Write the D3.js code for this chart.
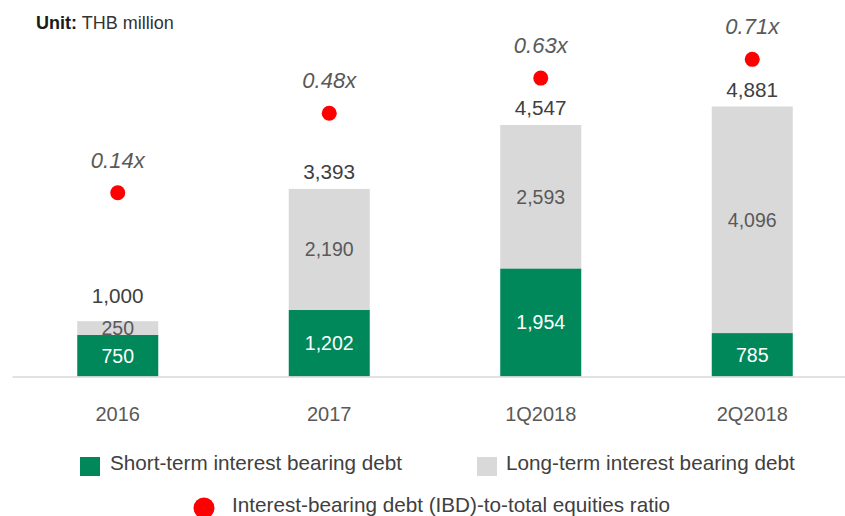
<!DOCTYPE html>
<html lang="en">

<head>
	<title>Interest bearing debt</title>
	<meta charset="utf-8">
	<script src="https://d3js.org/d3.v7.min.js"></script>
	<style>
		body { margin: 0; background: #fff; }
		svg { display: block; font-family: "Liberation Sans", Arial, sans-serif; }
	</style>
</head>

<body>
	<div id="container1"></div>
	<script>
		// Access data
		const periods = ["2016", "2017", "1Q2018", "2Q2018"];
		const shortTerm = [750, 1202, 1954, 785];
		const longTerm = [250, 2190, 2593, 4096];
		const totals = [1000, 3393, 4547, 4881];
		const ratios = [0.14, 0.48, 0.63, 0.71];
		const legendLabels = [
			"Short-term interest bearing debt",
			"Long-term interest bearing debt",
			"Interest-bearing debt (IBD)-to-total equities ratio"
		];

		const data = periods.map((p, i) => ({
			period: p, short: shortTerm[i], long: longTerm[i], total: totals[i], ratio: ratios[i]
		}));

		// Chart dimensions
		const width = 845;
		const height = 516;
		const baseline = 376.5;

		const green = "#00885b";
		const grey = "#d9d9d9";

		const svg = d3.select("#container1")
			.append("svg")
			.attr("width", width)
			.attr("height", height);

		// Scales
		const x = d3.scaleBand()
			.domain(periods)
			.range([12, 858])
			.paddingInner(0.617)
			.paddingOuter(0.3085);

		const y = d3.scaleLinear()
			.domain([0, 5000])
			.range([baseline, baseline - 5000 * 270 / 4881]);

		const yRatio = d3.scaleLinear()
			.domain([0, 1])
			.range([225.5, -8.5]);

		const fmt = d3.format(",");

		// Unit label
		const unit = svg.append("text")
			.attr("x", 36)
			.attr("y", 29)
			.attr("font-size", "18px");
		unit.append("tspan").attr("font-weight", "bold").attr("fill", "#1a1a1a").text("Unit:");
		unit.append("tspan").attr("fill", "#333").text(" THB million");

		// Stacked bars
		const stack = d3.stack().keys(["short", "long"])(data);
		const colors = { short: green, long: grey };

		svg.append("g")
			.selectAll("g")
			.data(stack)
			.join("g")
			.attr("fill", s => colors[s.key])
			.selectAll("rect")
			.data(s => s)
			.join("rect")
			.attr("x", d => x(d.data.period))
			.attr("y", d => y(d[1]))
			.attr("width", x.bandwidth())
			.attr("height", d => y(d[0]) - y(d[1]));

		// Segment labels
		svg.append("g")
			.selectAll("g")
			.data(stack)
			.join("g")
			.attr("fill", s => s.key === "short" ? "#fff" : "#595959")
			.selectAll("text")
			.data(s => s)
			.join("text")
			.attr("x", d => x(d.data.period) + x.bandwidth() / 2)
			.attr("y", d => (y(d[0]) + y(d[1])) / 2)
			.attr("dy", "0.36em")
			.attr("text-anchor", "middle")
			.attr("font-size", "19.5px")
			.text(d => fmt(d[1] - d[0]));

		// Axis
		const xAxis = d3.axisBottom(x)
			.tickSize(0)
			.tickPadding(30);

		const axisG = svg.append("g")
			.attr("transform", `translate(0,${baseline})`)
			.call(xAxis);
		axisG.select(".domain").attr("stroke", grey).attr("stroke-width", 1.5);
		axisG.selectAll("text")
			.attr("font-family", "Liberation Sans, Arial, sans-serif")
			.attr("font-size", "20px")
			.attr("fill", "#595959");

		// Totals
		svg.append("g")
			.selectAll("text")
			.data(data)
			.join("text")
			.attr("x", d => x(d.period) + x.bandwidth() / 2)
			.attr("y", d => y(d.total) - (y(d.short) - y(d.total) < 20 ? 18 : 9.5))
			.attr("text-anchor", "middle")
			.attr("font-size", "20.7px")
			.attr("fill", "#404040")
			.text(d => fmt(d.total));

		// Ratio dots
		svg.append("g")
			.selectAll("circle")
			.data(data)
			.join("circle")
			.attr("cx", d => x(d.period) + x.bandwidth() / 2)
			.attr("cy", d => yRatio(d.ratio))
			.attr("r", 7.5)
			.attr("fill", "#ff0000");

		svg.append("g")
			.selectAll("text")
			.data(data)
			.join("text")
			.attr("x", d => x(d.period) + x.bandwidth() / 2)
			.attr("y", d => yRatio(d.ratio) - 25)
			.attr("text-anchor", "middle")
			.attr("font-size", "22px")
			.attr("font-style", "italic")
			.attr("fill", "#595959")
			.text(d => d.ratio.toFixed(2) + "x");

		// Legend
		const legend = svg.append("g").attr("font-size", "20.7px").attr("fill", "#404040");

		legend.append("rect").attr("x", 80).attr("y", 457).attr("width", 20).attr("height", 19).attr("fill", green);
		legend.append("text").attr("x", 110).attr("y", 470).text(legendLabels[0]);

		legend.append("rect").attr("x", 477).attr("y", 457).attr("width", 20).attr("height", 19).attr("fill", grey);
		legend.append("text").attr("x", 506).attr("y", 470).text(legendLabels[1]);

		legend.append("circle").attr("cx", 204).attr("cy", 508).attr("r", 10.5).attr("fill", "#ff0000");
		legend.append("text").attr("x", 232).attr("y", 511.5).text(legendLabels[2]);
	</script>
</body>

</html>
